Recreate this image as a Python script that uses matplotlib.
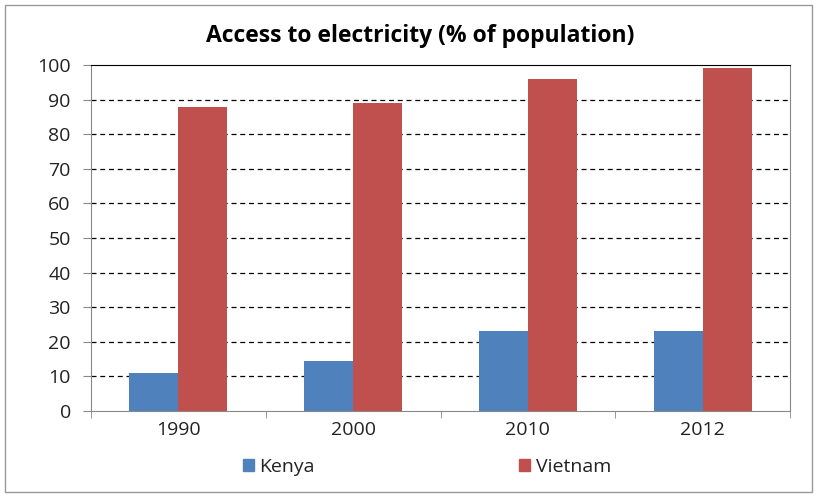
import matplotlib.pyplot as plt
from matplotlib.patches import Rectangle, Patch
import numpy as np

years = ["1990", "2000", "2010", "2012"]
kenya = [11, 14.5, 23, 23]
vietnam = [88, 89, 96, 99]

plt.rcParams['font.family'] = ['Open Sans', 'DejaVu Sans']

fig = plt.figure(figsize=(8.21, 4.94), dpi=100)
ax = fig.add_axes([91 / 821, 1 - 411 / 494, (790 - 91) / 821, (411 - 65) / 494])

x = np.arange(len(years))
w = 0.28
ax.bar(x - w / 2, kenya, w, color="#4F81BD", label="Kenya", zorder=3)
ax.bar(x + w / 2, vietnam, w, color="#C0504D", label="Vietnam", zorder=3)

ax.set_xlim(-0.5, len(years) - 0.5)
ax.set_ylim(0, 100)
ax.set_yticks(range(0, 101, 10))
ax.set_xticks(x)
ax.set_xticklabels(years)
ax.set_xticks(np.arange(-0.5, len(years), 1), minor=True)
ax.tick_params(axis='x', which='major', length=0, pad=7, labelsize=14, labelcolor='#222222')
ax.tick_params(axis='x', which='minor', length=5, color='#888888', direction='out')
ax.tick_params(axis='y', length=5.5, color='#888888', labelsize=14, pad=9, labelcolor='#222222')

for v in range(10, 100, 10):
    ax.axhline(v, color='black', lw=0.9, ls=(0, (4, 3)), zorder=1)

for s in ['left', 'bottom', 'right']:
    ax.spines[s].set_color('#888888')
ax.spines['top'].set_color('black')

fig.text(420 / 821, 1 - 36 / 494, "Access to electricity (% of population)",
         ha='center', va='center', fontsize=16.5, fontweight='bold')

handles = [Patch(color="#4F81BD", label="Kenya"), Patch(color="#C0504D", label="Vietnam")]
fig.legend(handles=handles, loc='center', bbox_to_anchor=(427 / 821, 1 - 467 / 494), ncol=2,
           frameon=False, handlelength=0.57, handleheight=0.57, handletextpad=0.3,
           columnspacing=10.5, fontsize=14, borderpad=0, labelcolor='#222222')

fig.patches.append(Rectangle((5 / 821, 2 / 494), 807 / 821, 487 / 494, transform=fig.transFigure,
                             fill=False, edgecolor='#999999', lw=1))

fig.savefig("out.png", dpi=100)
